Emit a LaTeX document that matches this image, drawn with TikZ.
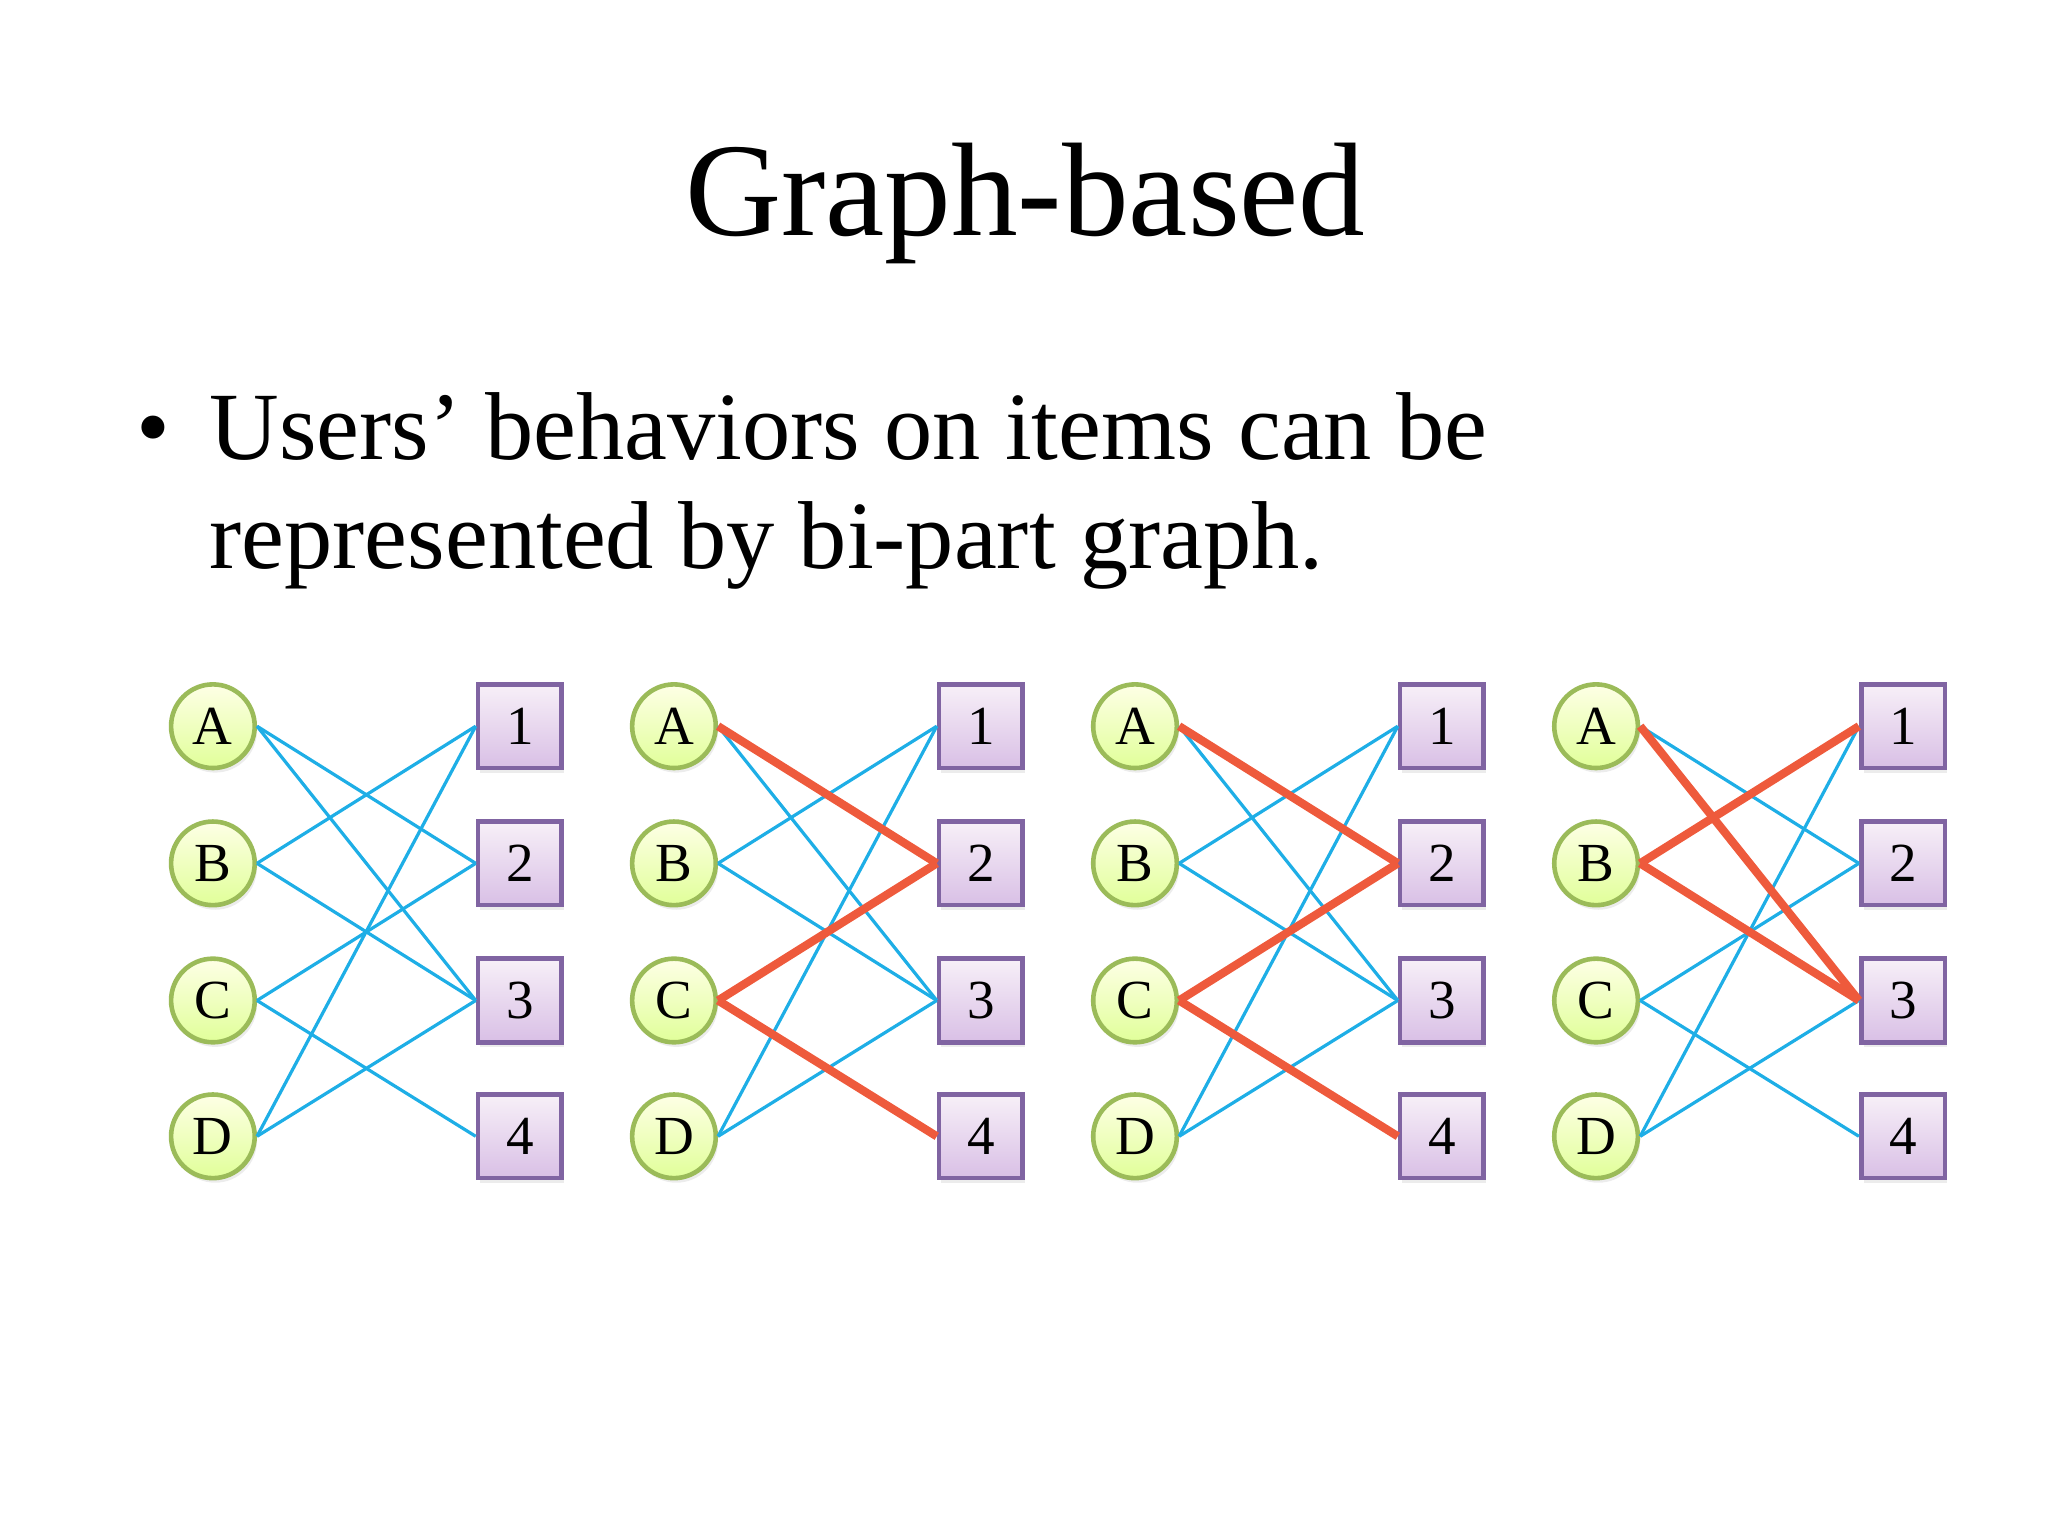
\documentclass[tikz,border=0pt]{standalone}
\usepackage{fontspec}
\setmainfont{Liberation Serif}
\usetikzlibrary{shadows}
\definecolor{ubord}{HTML}{9BBB59}
\definecolor{ibord}{HTML}{8064A2}
\definecolor{eblue}{HTML}{1EAEE6}
\definecolor{ered}{HTML}{EE5A3C}
\begin{document}
\begin{tikzpicture}[x=0.01cm,y=-0.01cm,
 user/.style={circle,draw=ubord,line width=1pt,top color=green!5!yellow!10,bottom color=green!30!yellow!40,minimum size=0.64cm,inner sep=0pt,font=\fontsize{12}{12}\selectfont,drop shadow={opacity=0.15,shadow xshift=0.5pt,shadow yshift=-1pt}},
 item/.style={rectangle,draw=ibord,line width=1pt,top color=blue!4!violet!6,bottom color=blue!20!violet!25,minimum size=0.64cm,inner sep=0pt,font=\fontsize{12}{12}\selectfont,drop shadow={opacity=0.15,shadow xshift=0.5pt,shadow yshift=-1pt}},
 b/.style={draw=eblue,line width=0.7pt},
 r/.style={draw=ered,line width=1.8pt},
 body/.style={anchor=base west,font=\fontsize{21}{21}\selectfont}]
\useasboundingbox (0,0) rectangle (1568,1176);
\node[anchor=base,font=\fontsize{29}{29}\selectfont] (title) at (785,180) {Graph-based};
\node[body] (bul) at (92,352) {\textbullet};
\node[body] (l1) at (148,352) {Users’ behaviors on items can be};
\node[body] (l2) at (148,435) {represented by bi-part graph.};
\foreach \g/\cx/\sx in {1/163/398,2/516/751,3/869/1104,4/1222/1457}{
 \foreach \l/\n/\y in {A/1/556,B/2/661,C/3/766,D/4/870}{
  \node[user] (u\g\l) at (\cx,\y) {\l};
  \node[item] (i\g\n) at (\sx,\y) {\n};
 }
}
\foreach \a/\c in {A/2,A/3,B/1,B/3,C/2,C/4,D/1,D/3}{\draw[b] (u1\a.east) -- (i1\c.west);}
\foreach \g in {2,3}{
 \foreach \a/\c in {A/3,B/1,B/3,D/1,D/3}{\draw[b] (u\g\a.east) -- (i\g\c.west);}
 \foreach \a/\c in {A/2,C/2,C/4}{\draw[r] (u\g\a.east) -- (i\g\c.west);}
}
\foreach \a/\c in {A/2,C/2,C/4,D/1,D/3}{\draw[b] (u4\a.east) -- (i4\c.west);}
\foreach \a/\c in {A/3,B/1,B/3}{\draw[r] (u4\a.east) -- (i4\c.west);}
\end{tikzpicture}
\end{document}
